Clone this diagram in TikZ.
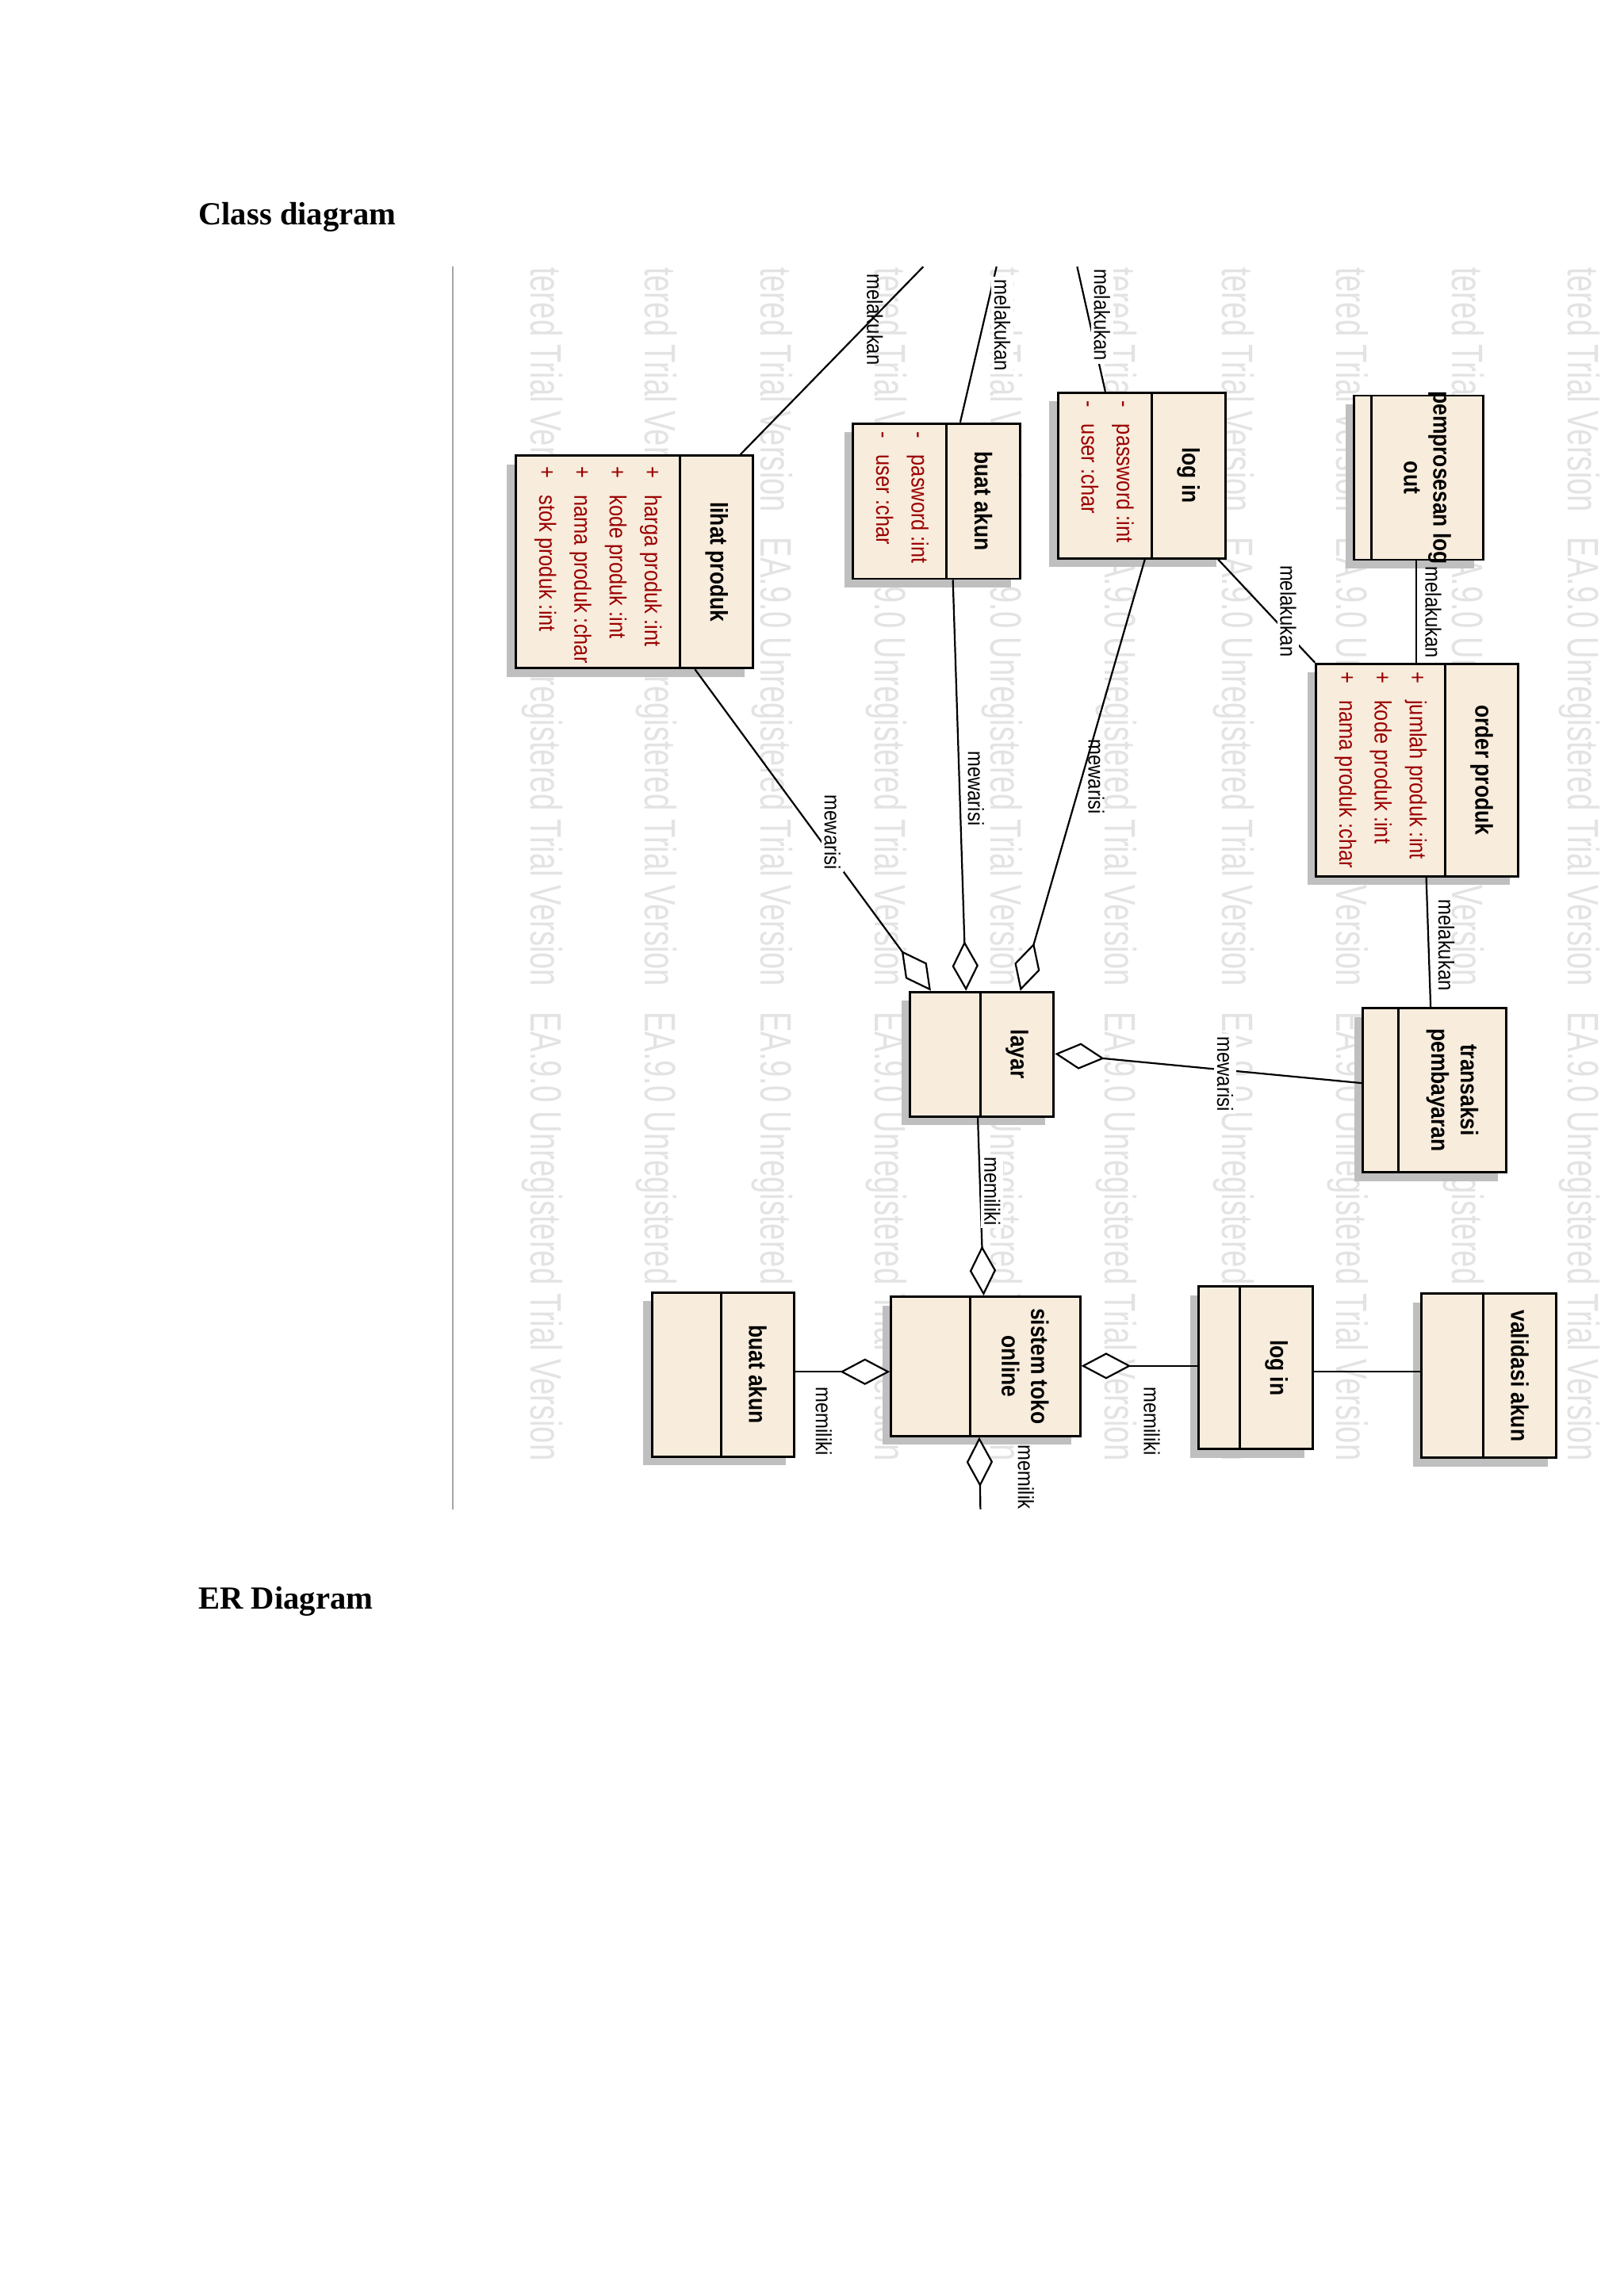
\documentclass[tikz,border=0pt]{standalone}
\usepackage{fontspec}
\setmainfont{Liberation Serif}
\newfontfamily\nar[FakeStretch=0.86]{Liberation Sans}
\newfontfamily\wmf[FakeStretch=0.69]{Liberation Sans}
\usetikzlibrary{calc,fit,arrows.meta}
\definecolor{attr}{HTML}{9A0000}
\definecolor{cream}{HTML}{F8ECDC}
\tikzset{
  cls/.style={draw,line width=0.8pt,fill=cream,inner sep=0pt},
  ttl/.style={rotate=-90,font=\nar\bfseries\fontsize{8.3}{10}\selectfont,align=center},
  att/.style={rotate=-90,font=\nar\fontsize{8}{12}\selectfont,text=attr,align=left,anchor=north west,inner sep=0pt},
  lab/.style={rotate=-90,font=\nar\fontsize{7.5}{9}\selectfont,inner sep=1pt},
  ln/.style={line width=0.6pt},
  agg/.style={line width=0.6pt,-{Diamond[fill=white,length=17pt,width=9pt,line width=0.6pt]}},
  wm/.style={rotate=-90,font=\wmf\fontsize{15}{15}\selectfont,text=gray!22,anchor=west,inner sep=0pt},
}
% name, x1,y1,x2,y2, width of name compartment, title
\newcommand\ubox[7]{%
  \fill[gray!50] (#2-6,#3+6) rectangle (#4-6,#5+6);
  \node[cls,fit={(#2,#3)(#4,#5)}] (#1) {};
  \draw[line width=0.8pt] (#4-#6,#3) -- (#4-#6,#5);
  \node[ttl] (#1t) at ({#4-#6/2},{(#3+#5)/2}) {#7};
}
\begin{document}
\begin{tikzpicture}[x=0.5pt,y=-0.5pt]
\useasboundingbox (0,0) rectangle (1108,1567);
\fill[white] (0,0) rectangle (1108,1567);
\node[font=\bfseries\fontsize{11}{13}\selectfont,anchor=west,inner sep=0pt] (t1) at (135,148) {Class diagram};
\node[font=\bfseries\fontsize{11}{13}\selectfont,anchor=west,inner sep=0pt] (t2) at (135,1093) {ER Diagram};
\draw[gray!70,line width=0.5pt] (309,182) coordinate (v1) -- (309,1030) coordinate (v2);
% watermark
\begin{scope}
\clip (312,182) rectangle (1108,1030);
\foreach \x in {370,448,527,605,684,762,842,920,999,1078}{
  \node[wm] at (\x,182) {tered Trial Version\ \ \ EA.9.0 Unregistered Trial Version\ \ \ EA.9.0 Unregistered Trial Version};
}
\end{scope}
% boxes
\ubox{lp}{352}{311}{514}{456}{50}{lihat produk}
\node[att] (lpa) at (452,318) {+\ \ \ harga produk :int\\+\ \ \ kode produk :int\\+\ \ \ nama produk :char\\+\ \ \ stok produk :int};
\ubox{ba}{582}{289}{696}{395}{50}{buat akun}
\node[att] (baa) at (634,294) {-\ \ \ pasword :int\\-\ \ \ user :char};
\ubox{li}{722}{268}{836}{381}{50}{log in}
\node[att] (lia) at (774,273) {-\ \ \ password :int\\-\ \ \ user :char};
\ubox{pl}{924}{270}{1012}{382}{76}{pemprosesan log\\out}
\draw[line width=0.8pt] (936,270) -- (936,382);
\ubox{op}{898}{453}{1036}{598}{50}{order produk}
\node[att] (opa) at (974,458) {+\ \ \ jumlah produk :int\\+\ \ \ kode produk :int\\+\ \ \ nama produk :char};
\ubox{la}{621}{677}{719}{762}{50}{layar}
\ubox{tp}{930}{688}{1028}{800}{74}{transaksi\\pembayaran}
\ubox{st}{608}{885}{737}{980}{75}{sistem toko\\online}
\ubox{bb}{445}{882}{542}{994}{50}{buat akun}
\ubox{lb}{818}{878}{896}{989}{50}{log in}
\ubox{va}{970}{883}{1062}{995}{50}{validasi akun}
% free ends
\coordinate (e1) at (630,182);
\coordinate (e2) at (680,182);
\coordinate (e3) at (735,182);
\coordinate (e4) at (669,1030);
% connectors
\draw[ln] ($(lp.north west)+(154,0)$) -- (e1);
\draw[ln] ($(ba.north west)+(74,0)$) -- (e2);
\draw[ln] ($(li.north west)+(33,0)$) -- (e3);
\draw[agg] ($(lp.south west)+(123,0)$) -- ($(la.north west)+(15,0)$);
\draw[agg] ($(ba.south west)+(69,0)$) -- ($(la.north west)+(39,0)$);
\draw[agg] ($(li.south west)+(60,0)$) -- ($(la.north west)+(76,0)$);
\draw[ln] ($(li.south west)+(110,0)$) -- (op.north west);
\draw[ln] ($(pl.south west)+(43,0)$) -- ($(op.north west)+(69,0)$);
\draw[ln] ($(op.south west)+(76,0)$) -- ($(tp.north west)+(47,0)$);
\draw[agg] ($(tp.north west)+(0,52)$) -- ($(la.north east)+(0,43)$);
\draw[agg] ($(la.south west)+(47,0)$) -- ($(st.north west)+(64,0)$);
\draw[agg] ($(bb.north east)+(0,55)$) -- ($(st.north west)+(0,52)$);
\draw[agg] ($(lb.north west)+(0,55)$) -- ($(st.north east)+(0,48)$);
\draw[ln] ($(lb.north east)+(0,59)$) -- ($(va.north west)+(0,54)$);
\draw[agg] (e4) -- ($(st.south west)+(61,0)$);
% labels
\node[lab] (l1) at (597,218) {melakukan};
\node[lab,fill=white] (l2) at (684,222) {melakukan};
\node[lab,fill=white] (l3) at (752,215) {melakukan};
\node[lab,fill=white] (l4) at (568,568) {mewarisi};
\node[lab] (l5) at (666,538) {mewarisi};
\node[lab] (l6) at (748,530) {mewarisi};
\node[lab,fill=white] (l7) at (879,417) {melakukan};
\node[lab] (l8) at (978,418) {melakukan};
\node[lab] (l9) at (987,645) {melakukan};
\node[lab,fill=white] (l10) at (836,733) {mewarisi};
\node[lab,fill=white] (l11) at (677,813) {memiliki};
\node[lab] (l12) at (562,970) {memiliki};
\node[lab] (l13) at (786,970) {memiliki};
\node[lab] (l14) at (700,1008) {memilik};
\end{tikzpicture}
\end{document}
